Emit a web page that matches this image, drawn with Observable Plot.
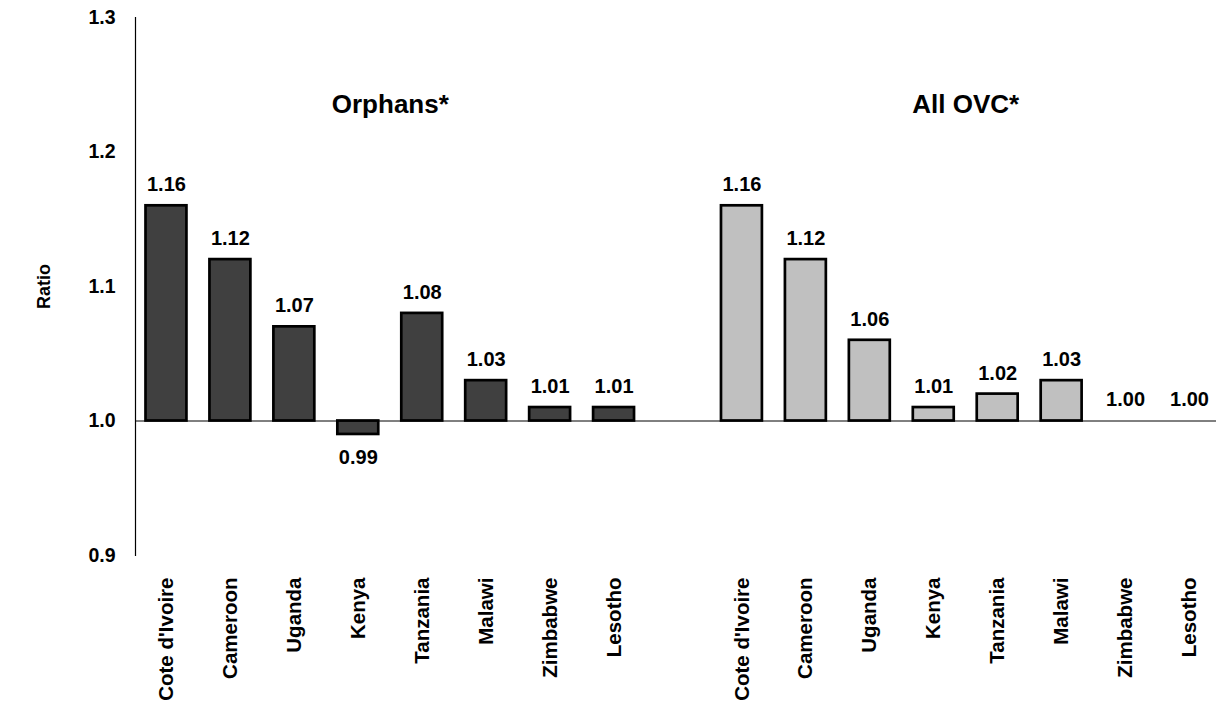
<!DOCTYPE html>
<html>
<head>
<meta charset="utf-8">
<script src="https://cdn.jsdelivr.net/npm/d3@7"></script>
<script src="https://cdn.jsdelivr.net/npm/@observablehq/plot@0.6"></script>
<style>
  html, body { margin: 0; padding: 0; background: #fff; }
  #chart svg { display: block; }
</style>
</head>
<body>
<div id="chart"></div>
<script>
const countries = ["Cote d'Ivoire", "Cameroon", "Uganda", "Kenya", "Tanzania", "Malawi", "Zimbabwe", "Lesotho"];
const orphans = [1.16, 1.12, 1.07, 0.99, 1.08, 1.03, 1.01, 1.01];
const allOvc = [1.16, 1.12, 1.06, 1.01, 1.02, 1.03, 1.00, 1.00];
const groups = ["Orphans*", "All OVC*"];
const yTicks = [0.9, 1.0, 1.1, 1.2, 1.3];

const rows = [
  ...countries.map((c, i) => ({group: groups[0], country: c, slot: "O|" + c, value: orphans[i]})),
  ...countries.map((c, i) => ({group: groups[1], country: c, slot: "A|" + c, value: allOvc[i]}))
];
const slots = [...countries.map(c => "O|" + c), "gap", ...countries.map(c => "A|" + c)];
const titles = [
  {text: groups[0], slot: "O|Kenya"},
  {text: groups[1], slot: "A|Kenya"}
];

const W = 1216, H = 704;
const chart = Plot.plot({
  width: W,
  height: H,
  marginLeft: 135,
  marginRight: 0,
  marginTop: 17,
  marginBottom: 149,
  style: {fontFamily: "'Liberation Sans', Arial, sans-serif", color: "#000", background: "#fff"},
  x: {domain: slots, range: [134, 1221], paddingInner: 0.36, paddingOuter: 0.18, round: false, axis: null},
  y: {domain: [0.9, 1.3], axis: null},
  color: {domain: groups, range: ["#404040", "#c0c0c0"]},
  marks: [
    Plot.frame({anchor: "left", stroke: "#000", strokeWidth: 1.2}),
    Plot.axisY({ticks: yTicks, tickFormat: d3.format(".1f"), tickSize: 0, tickPadding: 20, fontSize: 19.5, fontWeight: "bold", label: null}),
    Plot.axisX({ticks: slots.filter(s => s !== "gap"), tickFormat: d => d.split("|")[1], tickRotate: -90, tickSize: 0, tickPadding: 22, fontSize: 20.5, fontWeight: "bold", label: null}),
    Plot.barY(rows, {x: "slot", y1: 1, y2: "value", fill: "group", stroke: "#000", strokeWidth: 2.7}),
    Plot.ruleY([1], {stroke: "#000", strokeWidth: 1}),
    Plot.text(rows.filter(d => d.value >= 1), {x: "slot", y: "value", text: d => d.value.toFixed(2), dy: -21, fontSize: 20, fontWeight: "bold", fill: "#000"}),
    Plot.text(rows.filter(d => d.value < 1), {x: "slot", y: "value", text: d => d.value.toFixed(2), dy: 23, fontSize: 20, fontWeight: "bold", fill: "#000"}),
    Plot.text(titles, {x: "slot", y: () => 1.235, text: "text", dx: 32, fontSize: 26, fontWeight: "bold", fill: "#000"}),
    Plot.text(["Ratio"], {frameAnchor: "left", text: d => d, dx: -91, rotate: -90, textAnchor: "middle", fontSize: 18, fontWeight: "bold", fill: "#000"})
  ]
});
document.getElementById("chart").appendChild(chart);
</script>
</body>
</html>
